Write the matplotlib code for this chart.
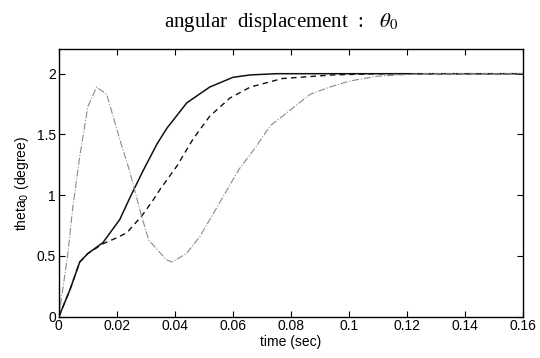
import matplotlib.pyplot as plt

# time axis (sec) and theta_0 responses (degree)
t_solid = [0, 0.0038, 0.0072, 0.010, 0.0152, 0.021, 0.0245, 0.029, 0.0338, 0.0372,
           0.0441, 0.052, 0.060, 0.066, 0.075, 0.09, 0.16]
v_solid = [0, 0.22, 0.45, 0.52, 0.61, 0.80, 0.98, 1.20, 1.42, 1.55,
           1.76, 1.89, 1.97, 1.99, 2.0, 2.0, 2.0]

t_dash = [0, 0.0038, 0.0072, 0.010, 0.0152, 0.020, 0.0234, 0.0286, 0.0325, 0.0348,
          0.0407, 0.0462, 0.052, 0.059, 0.066, 0.077, 0.0945, 0.11, 0.16]
v_dash = [0, 0.22, 0.45, 0.52, 0.60, 0.65, 0.69, 0.83, 0.96, 1.045,
          1.24, 1.46, 1.65, 1.80, 1.89, 1.96, 1.99, 2.0, 2.0]

t_dot = [0, 0.0031, 0.0048, 0.0072, 0.0083, 0.010, 0.013, 0.0165, 0.021, 0.0245,
         0.0286, 0.031, 0.037, 0.039, 0.044, 0.0486, 0.0555, 0.058, 0.062, 0.068,
         0.0728, 0.0797, 0.0866, 0.0934, 0.1003, 0.11, 0.1176, 0.125, 0.16]
v_dot = [0, 0.52, 0.90, 1.32, 1.48, 1.73, 1.89, 1.83, 1.46, 1.19,
         0.82, 0.63, 0.47, 0.45, 0.52, 0.66, 0.94, 1.045, 1.21, 1.40,
         1.57, 1.70, 1.83, 1.89, 1.94, 1.98, 1.99, 2.0, 2.0]

x_ticks = [0, 0.02, 0.04, 0.06, 0.08, 0.1, 0.12, 0.14, 0.16]
x_labels = ['0', '0.02', '0.04', '0.06', '0.08', '0.1', '0.12', '0.14', '0.16']
y_ticks = [0, 0.5, 1, 1.5, 2]
y_labels = ['0', '0.5', '1', '1.5', '2']

plt.rcParams['font.family'] = ['Liberation Sans', 'DejaVu Sans']

fig = plt.figure(figsize=(5.4, 3.58), dpi=100)
ax = fig.add_axes([0.109, 0.1154, 0.8595, 0.7466])

ax.plot(t_solid, v_solid, color='#111111', lw=1.1, ls='-')
ax.plot(t_dash, v_dash, color='#111111', lw=1.0, ls=(0, (4, 3)))
ax.plot(t_dot, v_dot, color='#8a8a8a', lw=0.8, ls='-.')

ax.set_xlim(0, 0.16)
ax.set_ylim(0, 2.2)
ax.set_xticks(x_ticks)
ax.set_xticklabels(x_labels)
ax.set_yticks(y_ticks)
ax.set_yticklabels(y_labels)
ax.tick_params(direction='in', top=True, right=True, length=4, width=0.8,
               labelsize=10, pad=2)
for s in ax.spines.values():
    s.set_linewidth(1.0)

ax.set_xlabel('time (sec)', fontsize=10, labelpad=1)
ax.set_ylabel(r'theta$_0$ (degree)', fontsize=10, labelpad=4)

fig.text(0.52, 0.936, r'angular  displacement  :   $\theta_0$',
         ha='center', va='center', fontsize=15,
         family=['Liberation Serif', 'DejaVu Serif'],
         math_fontfamily='stix')

fig.savefig('out.png', dpi=100)
